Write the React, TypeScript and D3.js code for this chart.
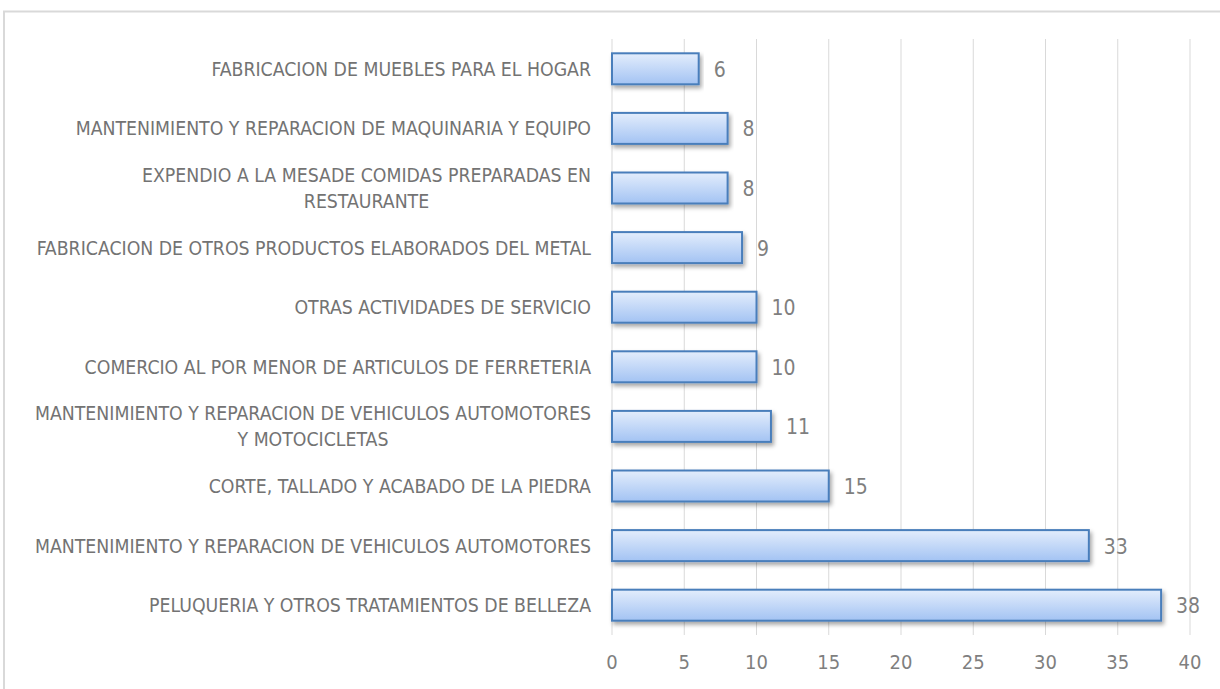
import React from 'react';
import * as d3 from 'd3';

const categories = [
  ['FABRICACION DE MUEBLES PARA EL HOGAR'],
  ['MANTENIMIENTO Y REPARACION DE MAQUINARIA Y EQUIPO'],
  ['EXPENDIO A LA MESADE COMIDAS PREPARADAS EN', 'RESTAURANTE'],
  ['FABRICACION DE OTROS PRODUCTOS ELABORADOS DEL METAL '],
  ['OTRAS ACTIVIDADES DE SERVICIO'],
  ['COMERCIO AL POR MENOR DE ARTICULOS DE FERRETERIA'],
  ['MANTENIMIENTO Y REPARACION DE VEHICULOS AUTOMOTORES', 'Y MOTOCICLETAS'],
  ['CORTE, TALLADO Y ACABADO DE LA PIEDRA'],
  ['MANTENIMIENTO Y REPARACION DE VEHICULOS AUTOMOTORES'],
  ['PELUQUERIA Y OTROS TRATAMIENTOS DE BELLEZA'],
];
const values = [6, 8, 8, 9, 10, 10, 11, 15, 33, 38];
const xTicks = [0, 5, 10, 15, 20, 25, 30, 35, 40];

const W = 1220;
const H = 689;
const left = 612;
const right = 1190;
const top = 39;
const bottom = 635;
const fam = '"DejaVu Sans Condensed", "DejaVu Sans", sans-serif';
const labelFont = `19.3px ${fam}`;
const textColor = '#737373';

let ctx: CanvasRenderingContext2D | null = null;
const measure = (s: string) => {
  if (!ctx) ctx = document.createElement('canvas').getContext('2d');
  ctx!.font = labelFont;
  return ctx!.measureText(s).width;
};

export default function App() {
  const x = d3.scaleLinear().domain([0, 40]).range([left, right]);
  const y = d3.scaleBand<number>().domain(d3.range(values.length)).range([top, bottom]).paddingInner(0.48).paddingOuter(0.24);
  const labelRight = 591;

  return (
    <svg width={W} height={H} style={{ position: 'absolute', left: 0, top: 0 }}>
      <defs>
        <linearGradient id="barGrad" x1="0" y1="0" x2="0" y2="1">
          <stop offset="0" stopColor="#e3edfc" />
          <stop offset="1" stopColor="#a3c3f3" />
        </linearGradient>
        <filter id="shadow" x="-5%" y="-30%" width="110%" height="180%">
          <feDropShadow dx="2" dy="3" stdDeviation="2" floodColor="#000" floodOpacity="0.35" />
        </filter>
      </defs>
      <rect x={0} y={0} width={W} height={H} fill="#fff" />
      <rect x={4} y={11.5} width={W + 20} height={H + 20} fill="none" stroke="#d9d9d9" strokeWidth={2} />

      {xTicks.map((t) => (
        <line key={t} x1={x(t)} x2={x(t)} y1={top} y2={bottom} stroke="#d9d9d9" strokeWidth={1} />
      ))}
      {xTicks.map((t) => (
        <text key={'t' + t} x={x(t)} y={669} textAnchor="middle" fontSize={20}
          fontFamily={fam} fill="#7f7f7f">{t}</text>
      ))}

      {values.map((v, i) => {
        const y0 = y(i)!;
        return (
          <g key={i}>
            <rect x={x(0)} y={y0} width={x(v) - x(0)} height={y.bandwidth()}
              fill="url(#barGrad)" stroke="#4a7ebb" strokeWidth={2} filter="url(#shadow)" />
            <text x={x(v) + 15} y={y0 + y.bandwidth() / 2 + 8} fontSize={21}
              fontFamily={fam} fill="#7f7f7f">{v}</text>
          </g>
        );
      })}

      {categories.map((lines, i) => {
        const cy = y(i)! + y.bandwidth() / 2;
        const maxW = Math.max(...lines.map(measure));
        const cx = labelRight - maxW / 2;
        const lh = 26;
        const startY = cy - ((lines.length - 1) * lh) / 2 + 7;
        return (
          <text key={'c' + i} style={{ font: labelFont }} fill={textColor} textAnchor={lines.length > 1 ? 'middle' : 'end'}>
            {lines.map((l, j) => (
              <tspan key={j} x={lines.length > 1 ? cx : labelRight} y={startY + j * lh}>{l}</tspan>
            ))}
          </text>
        );
      })}
    </svg>
  );
}
